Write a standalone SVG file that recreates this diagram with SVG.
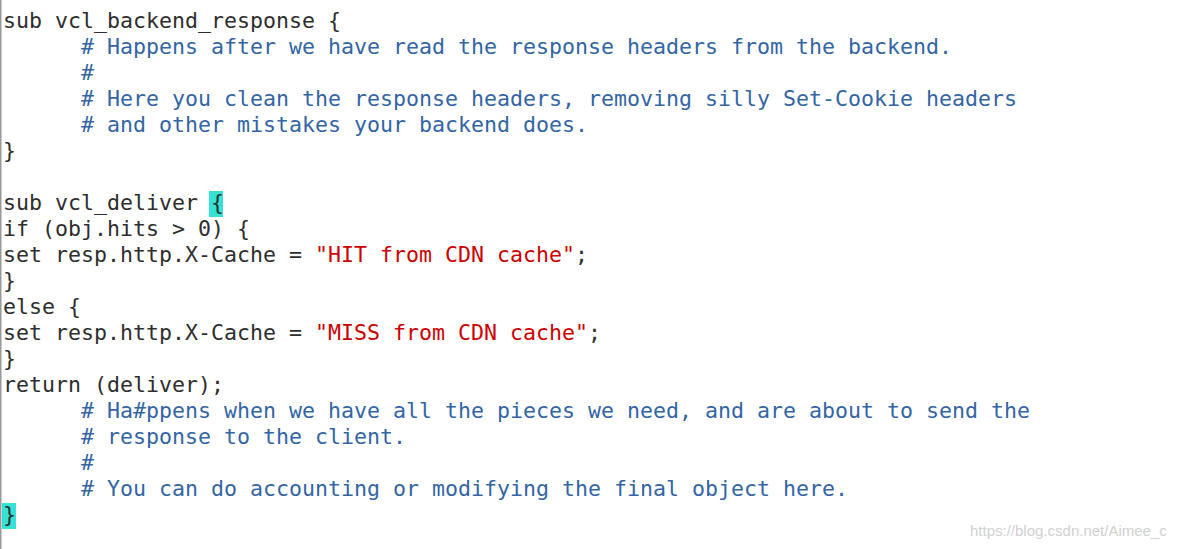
<svg xmlns="http://www.w3.org/2000/svg" width="1187" height="549" viewBox="0 0 1187 549">
<style>
text{font-family:"DejaVu Sans Mono",monospace;font-size:21.6px;fill:#2e2e2e;white-space:pre}
.c{fill:#3465a4}.s{fill:#cc0000}
.w{font-family:"Liberation Sans",sans-serif;font-size:15px;fill:#d0d0d0}
</style>
<rect width="1187" height="549" fill="#fff"/>
<rect x="0" y="0" width="1.5" height="549" fill="#999"/>
<rect x="209" y="191" width="14" height="26" fill="#34e2d6"/>
<rect x="2" y="503" width="14" height="26" fill="#34e2d6"/>
<text x="3" y="28">sub vcl_backend_response {</text>
<text x="81" y="54" class="c"># Happens after we have read the response headers from the backend.</text>
<text x="81" y="80" class="c">#</text>
<text x="81" y="106" class="c"># Here you clean the response headers, removing silly Set-Cookie headers</text>
<text x="81" y="132" class="c"># and other mistakes your backend does.</text>
<text x="3" y="158">}</text>
<text x="3" y="210">sub vcl_deliver {</text>
<text x="3" y="236">if (obj.hits &gt; 0) {</text>
<text x="3" y="262">set resp.http.X-Cache = <tspan class="s">"HIT from CDN cache"</tspan>;</text>
<text x="3" y="288">}</text>
<text x="3" y="314">else {</text>
<text x="3" y="340">set resp.http.X-Cache = <tspan class="s">"MISS from CDN cache"</tspan>;</text>
<text x="3" y="366">}</text>
<text x="3" y="392">return (deliver);</text>
<text x="81" y="418" class="c"># Ha#ppens when we have all the pieces we need, and are about to send the</text>
<text x="81" y="444" class="c"># response to the client.</text>
<text x="81" y="470" class="c">#</text>
<text x="81" y="496" class="c"># You can do accounting or modifying the final object here.</text>
<text x="3" y="522">}</text>
<text x="970" y="536" class="w">https://blog.csdn.net/Aimee_c</text>
</svg>
